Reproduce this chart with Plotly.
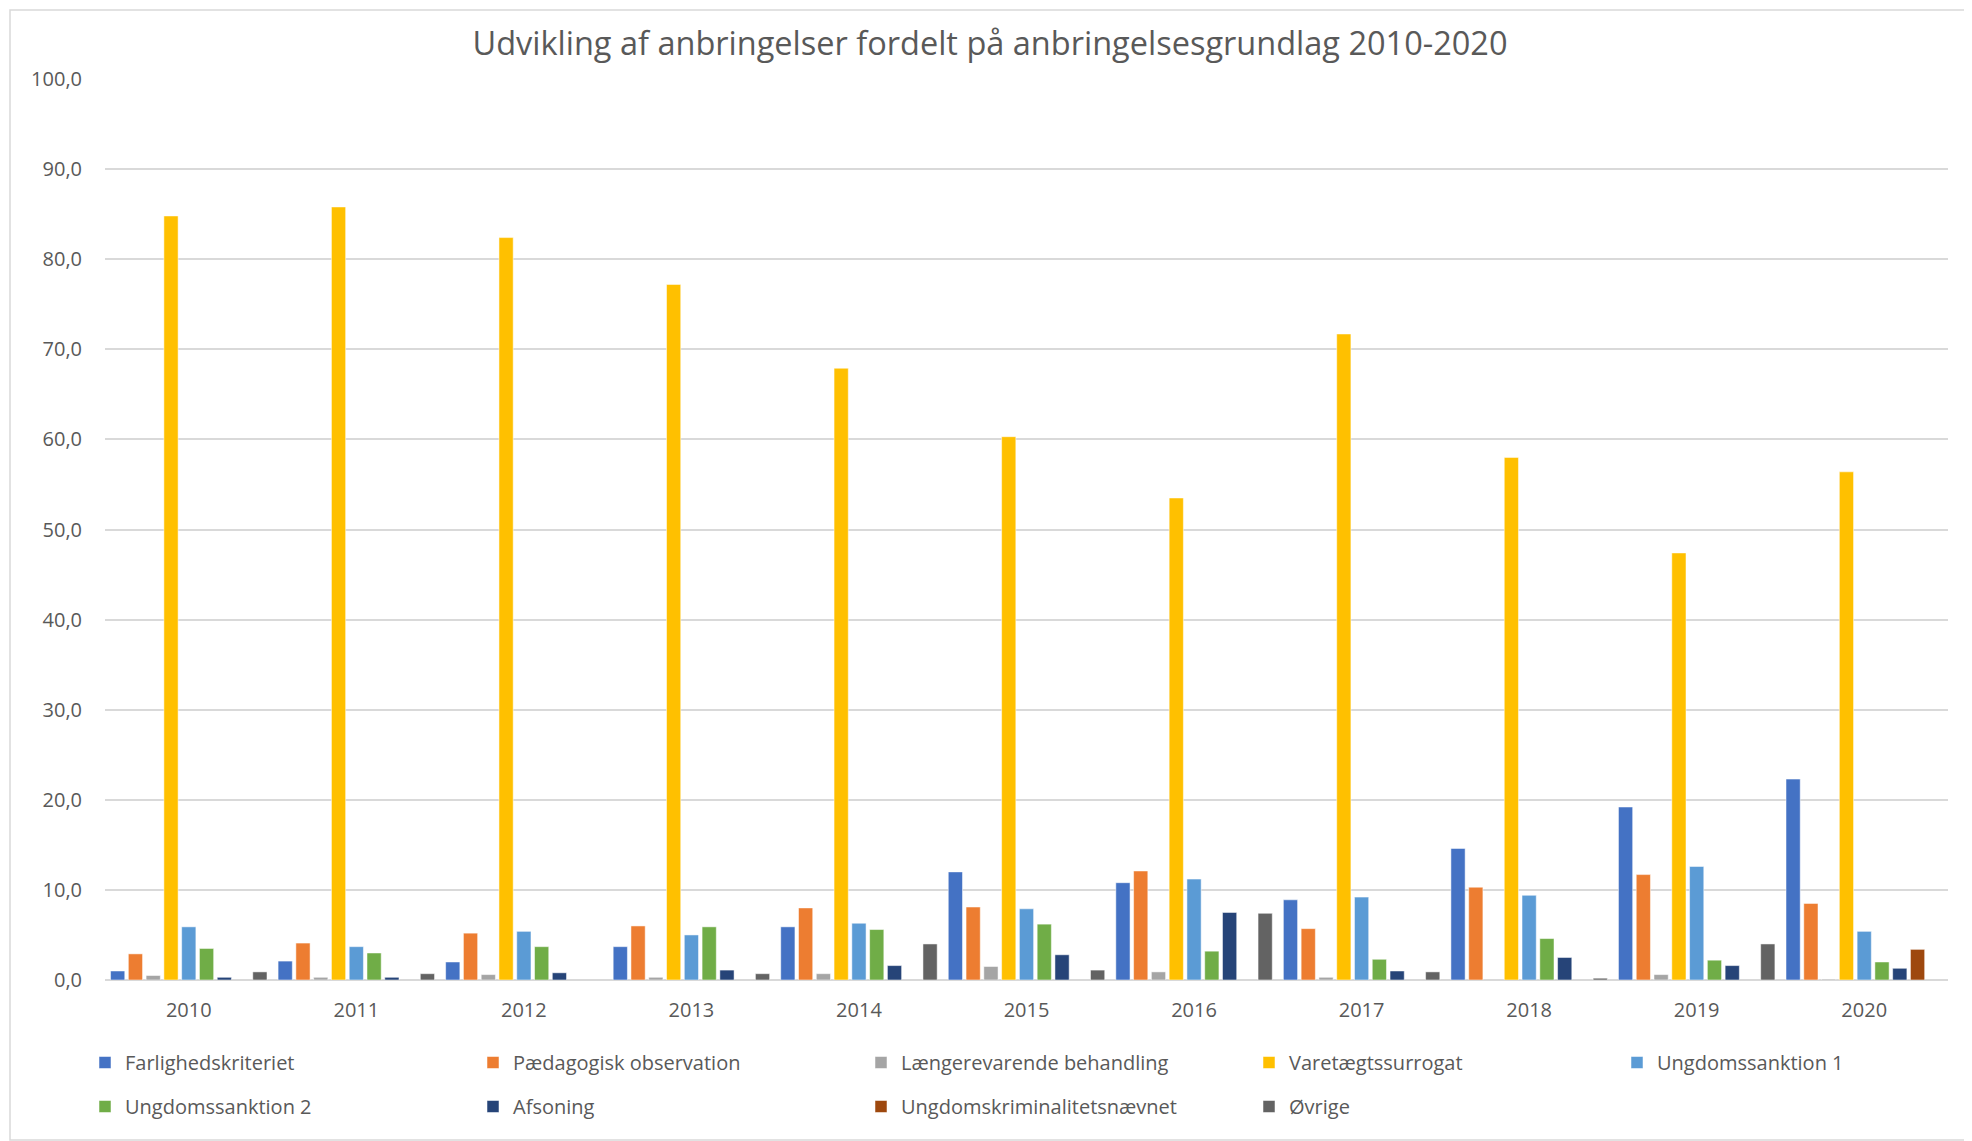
import plotly.graph_objects as go

years = ["2010", "2011", "2012", "2013", "2014", "2015", "2016", "2017", "2018", "2019", "2020"]

farlighed = [1.0, 2.1, 2.0, 3.7, 5.9, 12.0, 10.8, 8.9, 14.6, 19.2, 22.3]
paedagogisk = [2.9, 4.1, 5.2, 6.0, 8.0, 8.1, 12.1, 5.7, 10.3, 11.7, 8.5]
laengere = [0.5, 0.3, 0.6, 0.3, 0.7, 1.5, 0.9, 0.3, None, 0.6, 0.1]
varetaegt = [84.8, 85.8, 82.4, 77.2, 67.9, 60.3, 53.5, 71.7, 58.0, 47.4, 56.4]
ungdom1 = [5.9, 3.7, 5.4, 5.0, 6.3, 7.9, 11.2, 9.2, 9.4, 12.6, 5.4]
ungdom2 = [3.5, 3.0, 3.7, 5.9, 5.6, 6.2, 3.2, 2.3, 4.6, 2.2, 2.0]
afsoning = [0.3, 0.3, 0.8, 1.1, 1.6, 2.8, 7.5, 1.0, 2.5, 1.6, 1.3]
ungkrim = [None, None, None, None, None, None, None, None, None, None, 3.4]
oevrige = [0.9, 0.7, None, 0.7, 4.0, 1.1, 7.4, 0.9, 0.2, 4.0, None]

series = [
    ("Farlighedskriteriet", farlighed, "#4472C4"),
    ("Pædagogisk observation", paedagogisk, "#ED7D31"),
    ("Længerevarende behandling", laengere, "#A5A5A5"),
    ("Varetægtssurrogat", varetaegt, "#FFC000"),
    ("Ungdomssanktion 1", ungdom1, "#5B9BD5"),
    ("Ungdomssanktion 2", ungdom2, "#70AD47"),
    ("Afsoning", afsoning, "#264478"),
    ("Ungdomskriminalitetsnævnet", ungkrim, "#9E480E"),
    ("Øvrige", oevrige, "#636363"),
]
# which legend box each series goes into (row 1 is split so it doesn't wrap)
legend_of = ["legend", "legend", "legend", "legend", "legend3",
             "legend2", "legend2", "legend2", "legend2"]

# page body has an 8px margin, so the figure is a bit smaller than the window
W, H = 1964, 1133
L, R, T, B = 97, 24, 71, 161
pw, ph = W - L - R, H - T - B


def py(px):
    # figure pixel row -> paper y
    return (T + ph - px) / ph


def pxx(px):
    return (px - L) / pw


fig = go.Figure()
for (name, vals, color), lg in zip(series, legend_of):
    fig.add_trace(go.Bar(
        x=years, y=vals, name=name, legend=lg,
        marker=dict(color=color, line=dict(color="rgba(255,255,255,0.5)", width=1)),
    ))

font = "Open Sans, sans-serif"
legend_common = dict(orientation="h", xanchor="left", yanchor="top",
                     entrywidthmode="pixels", itemwidth=30,
                     bgcolor="rgba(0,0,0,0)",
                     font=dict(size=20, color="#595959", family=font))

fig.update_layout(
    width=W, height=H,
    margin=dict(l=L, r=R, t=T, b=B),
    paper_bgcolor="white", plot_bgcolor="white",
    font=dict(family=font, color="#595959", size=20),
    separators=",.",
    barmode="group", bargap=0.045, bargroupgap=0.2,
    title=dict(
        text="Udvikling af anbringelser fordelt på anbringelsesgrundlag 2010-2020",
        x=0.5, xanchor="center", y=1 - 36 / H, yanchor="middle",
        font=dict(size=32.5, color="#595959", family=font),
    ),
    xaxis=dict(showgrid=False, ticks="", showline=False, ticklabelstandoff=16,
               tickfont=dict(size=20)),
    yaxis=dict(range=[0, 100], dtick=10, tickformat=".1f", showgrid=True,
               gridcolor="#D9D9D9", gridwidth=1.5, zeroline=True,
               zerolinecolor="#D9D9D9", zerolinewidth=1.5, ticks="",
               ticklabelstandoff=22, tickfont=dict(size=20)),
    legend=dict(x=pxx(77), y=py(1035), entrywidth=343, **legend_common),
    legend3=dict(x=pxx(1609), y=py(1035), entrywidth=200, **legend_common),
    legend2=dict(x=pxx(77), y=py(1079), entrywidth=343, **legend_common),
    shapes=[dict(type="rect", xref="paper", yref="paper",
                 x0=pxx(2), x1=pxx(W - 1),
                 y0=py(H - 1), y1=py(2),
                 line=dict(color="#D9D9D9", width=1.5), layer="below")],
)

fig.write_html("out.html")
